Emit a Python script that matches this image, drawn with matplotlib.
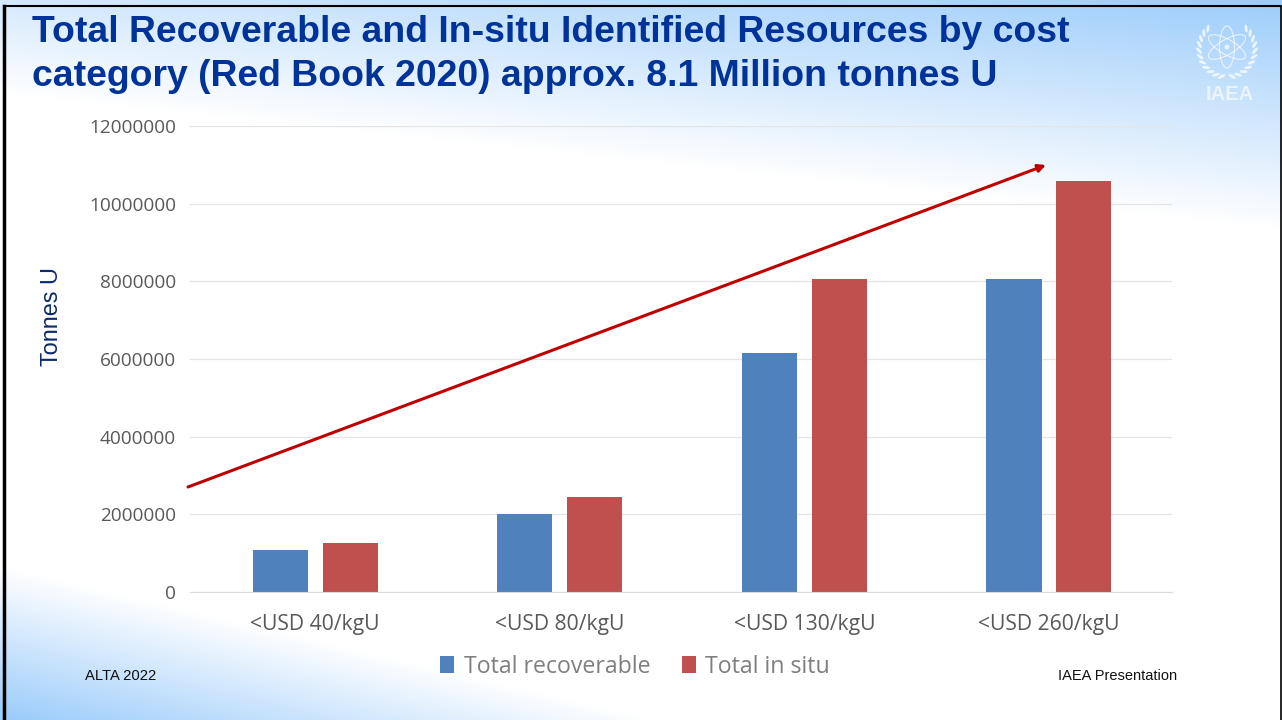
# make chart python file
import numpy as np
import matplotlib as mpl
mpl.use('Agg')
import matplotlib.pyplot as plt
from matplotlib.colors import LinearSegmentedColormap
from matplotlib.patches import Ellipse, Circle
from matplotlib.ticker import StrMethodFormatter

categories = ['<USD 40/kgU', '<USD 80/kgU', '<USD 130/kgU', '<USD 260/kgU']
recoverable = [1070000, 2000000, 6150000, 8070000]
in_situ = [1270000, 2450000, 8070000, 10580000]
y_ticks = [0, 2000000, 4000000, 6000000, 8000000, 10000000, 12000000]

W, H = 1282, 720
fig = plt.figure(figsize=(W/100, H/100), dpi=100)

# slide background, blue fading to white at top and bottom left
bg = fig.add_axes([0, 0, 1, 1], zorder=0)
xx, yy = np.meshgrid(np.arange(W)/W, np.arange(H))
top = np.clip(1 - yy/(95 + 135*xx), 0, 1) * (0.42 + 0.58*xx)
bottom = np.clip((yy - (565 + 300*xx))/150, 0, 1)
shade = np.clip(np.maximum(top, bottom), 0, 1)
cmap = LinearSegmentedColormap.from_list('slide', ['#ffffff', '#9dcdfb'])
bg.imshow(shade, cmap=cmap, vmin=0, vmax=1, aspect='auto', extent=[0, W, H, 0])
bg.set_xlim(0, W)
bg.set_ylim(H, 0)
bg.axis('off')

# slide frame
bg.plot([4, 4], [6, H], color='black', lw=2.5)
bg.plot([4, 1280], [6, 6], color='black', lw=1.5)
bg.plot([1280.5, 1280.5], [6, H], color='black', lw=1.2)

# IAEA logo
for ang in (90, 30, 150):
    bg.add_patch(Ellipse((1227, 47), 42, 15, angle=ang, fill=False, ec='white', lw=0.8, alpha=0.7))
bg.add_patch(Circle((1227, 47), 2.5, fc='white', ec='none', alpha=0.7))
for side in (-1, 1):
    for t in np.linspace(0.75, 2.95, 11):
        bg.add_patch(Ellipse((1227 + side*28*np.sin(t), 49 - 28*np.cos(t)), 8, 3,
                             angle=side*np.degrees(t) + side*40, fc='white', ec='none', alpha=0.75))
bg.text(1230, 94, 'IAEA', color='white', fontsize=14.5, fontweight='bold', family='Liberation Sans',
        ha='center', va='center', alpha=0.65)

ax = fig.add_axes([190/W, (H-592)/H, 982/W, 466/H], zorder=1)
ax.patch.set_alpha(0)
x = np.arange(len(categories))
ax.bar(x - 0.143, recoverable, 0.225, color='#4f81bd', label='Total recoverable')
ax.bar(x + 0.143, in_situ, 0.225, color='#c0504d', label='Total in situ')
ax.set_xlim(-0.512, 3.503)
ax.set_ylim(0, 12000000)
ax.set_yticks(y_ticks)
ax.yaxis.set_major_formatter(StrMethodFormatter('{x:.0f}'))
ax.set_xticks(x)
ax.set_xticklabels(categories)
ax.grid(axis='y', color='#e4e4e4', lw=0.9)
ax.set_axisbelow(True)
for s in ['top', 'right', 'left']:
    ax.spines[s].set_visible(False)
ax.spines['bottom'].set_color('#d9d9d9')
ax.tick_params(axis='y', length=0, labelcolor='#595959', labelsize=13.7, pad=10)
ax.tick_params(axis='x', length=0, labelcolor='#595959', labelsize=15.2, pad=16)
for lab in ax.get_xticklabels() + ax.get_yticklabels():
    lab.set_family('Open Sans')

# trend arrow
ax.annotate('', xy=(1046, 165), xytext=(188, 487), xycoords=bg.transData, textcoords=bg.transData,
            arrowprops=dict(arrowstyle='-|>', color='#c00000', lw=2.2, shrinkA=0, shrinkB=0, mutation_scale=11),
            annotation_clip=False)

bg.text(32, 33, 'Total Recoverable and In-situ Identified Resources by cost', color='#003399',
        fontsize=26.95, fontweight='bold', family='Liberation Sans', va='center', ha='left')
bg.text(32, 77, 'category (Red Book 2020) approx. 8.1 Million tonnes U', color='#003399',
        fontsize=26.95, fontweight='bold', family='Liberation Sans', va='center', ha='left')
bg.text(51, 317, 'Tonnes U', color='#0b2a6b', fontsize=16.9, family='Liberation Sans',
        rotation=90, va='center', ha='center')
bg.text(85, 676, 'ALTA 2022', color='#111111', fontsize=10.6, family='Liberation Sans', va='center')
bg.text(1177, 676, 'IAEA Presentation', color='#111111', fontsize=10.5, family='Liberation Sans', va='center', ha='right')

leg = ax.legend(loc='center', bbox_to_anchor=(445/982, -0.16), ncol=2, frameon=False, handlelength=0.6,
                handleheight=0.72, handletextpad=0.4, columnspacing=1.35,
                prop={'family': 'Open Sans', 'size': 16.7})
for t in leg.get_texts():
    t.set_color('#7f7f7f')

plt.savefig('out.png', dpi=100)
plt.close('all')
